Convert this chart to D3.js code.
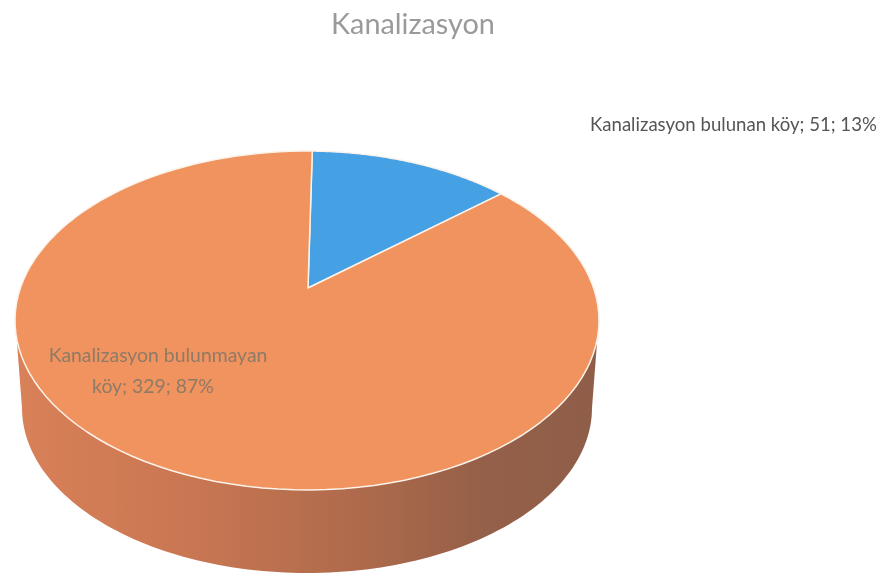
<!DOCTYPE html>
<html><head><meta charset="utf-8">
<script src="https://cdn.jsdelivr.net/npm/d3@7/dist/d3.min.js"></script>
<style>html,body{margin:0;background:#fff}svg{display:block}text{font-family:Lato,"Open Sans",sans-serif}</style>
</head><body><svg id="c" width="888" height="580"></svg>
<script>
const chartTitle = "Kanalizasyon";
const categories = ["Kanalizasyon bulunan köy", "Kanalizasyon bulunmayan köy"];
const values = [51, 329];
const percents = [13, 87];
const sliceColors = ["#45a0e4", "#f1935f"];

const svg = d3.select("#c");
const defs = svg.append("defs");
const grad = defs.append("linearGradient").attr("id","wall");
[[0,"#d98159"],[.3,"#c97652"],[.6,"#ad6a4c"],[.8,"#956049"],[1,"#8f5d49"]].forEach(s=>
  grad.append("stop").attr("offset",s[0]).attr("stop-color",s[1]));
const f = defs.append("filter").attr("id","soft").attr("x","-5%").attr("y","-5%").attr("width","110%").attr("height","110%");
f.append("feGaussianBlur").attr("stdDeviation",0.6);
const ft = defs.append("filter").attr("id","softText");
ft.append("feGaussianBlur").attr("stdDeviation",0.4);

// perspective projection of the pie disc
const cx = 307, K = 286.6, A = 108, B = 288, C = -0.1917;
const project = a => {
  const u = Math.sin(a), v = -Math.cos(a), w = 1 + C*v;
  return [cx + K*u/w, (A*v + B)/w];
};
const apex = () => [cx + 1, B];
const lowerRim = a => [cx + 285*Math.sin(a), 408 - 165*Math.cos(a)];
const sample = (a0,a1,n=120) => d3.range(n+1).map(i => a0 + (a1-a0)*i/n);
const line = d3.line();

const start = 0.022;
const arcs = d3.pie().sort(null).startAngle(start).endAngle(start + 2*Math.PI)(values);

const g = svg.append("g").attr("filter","url(#soft)");
const d2r = Math.PI/180;
const topPts = sample(100*d2r, 260*d2r).map(project);
const lowPts = sample(270*d2r, 90*d2r).map(lowerRim);
g.append("path").attr("d", line(topPts.concat(lowPts)) + "Z").attr("fill","url(#wall)");
g.selectAll("path.slice").data(arcs).join("path").attr("class","slice")
  .attr("d", d => line([apex()].concat(sample(d.startAngle,d.endAngle).map(project))) + "Z")
  .attr("fill",(d,i)=>sliceColors[i])
  .attr("stroke","#fbf3ea").attr("stroke-width",1.5).attr("stroke-linejoin","round");

svg.append("text").attr("x",413).attr("y",34).attr("text-anchor","middle")
  .attr("font-size",28.8).attr("fill","#9a9a9a").attr("filter","url(#softText)").text(chartTitle);
svg.append("text").attr("x",590).attr("y",131).attr("font-size",18.6).attr("fill","#555")
  .attr("filter","url(#softText)")
  .text(`${categories[0]}; ${values[0]}; ${percents[0]}%`);
const words = categories[1].split(" ");
const inner = svg.append("text").attr("text-anchor","middle").attr("font-size",19.4)
  .attr("fill","#8f7a66").attr("filter","url(#softText)");
inner.append("tspan").attr("x",158).attr("y",362).text(words.slice(0,2).join(" "));
inner.append("tspan").attr("x",153).attr("y",393).text(`${words[2]}; ${values[1]}; ${percents[1]}%`);
</script></body></html>
